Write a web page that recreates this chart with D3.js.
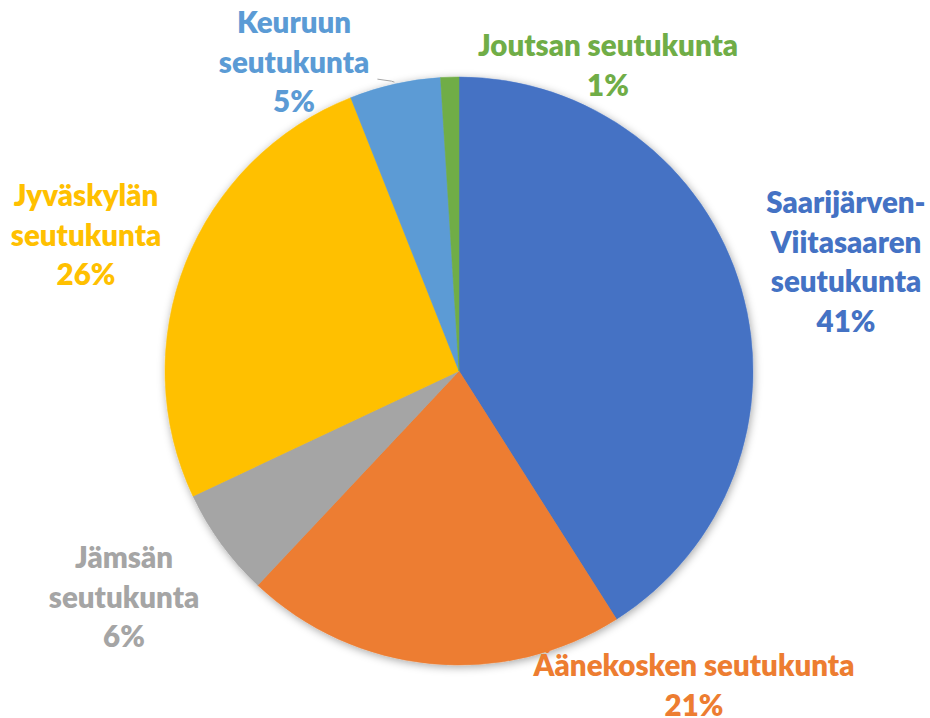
<!DOCTYPE html>
<html>
<head>
<meta charset="utf-8">
<script src="https://cdn.jsdelivr.net/npm/d3@7"></script>
<style>
  html, body { margin: 0; padding: 0; background: #ffffff; }
  svg { display: block; }
  text { font-family: Lato, "Open Sans", "DejaVu Sans", sans-serif; font-weight: 800; }
</style>
</head>
<body>
<svg id="chart" width="930" height="718"></svg>
<script>
// ---- data ----
const categories = [
  "Saarijärven-Viitasaaren seutukunta",
  "Äänekosken seutukunta",
  "Jämsän seutukunta",
  "Jyväskylän seutukunta",
  "Keuruun seutukunta",
  "Joutsan seutukunta"
];
const values = [41, 21, 6, 26, 5, 1];
const labelLines = [
  ["Saarijärven-", "Viitasaaren", "seutukunta"],
  ["Äänekosken seutukunta"],
  ["Jämsän", "seutukunta"],
  ["Jyväskylän", "seutukunta"],
  ["Keuruun", "seutukunta"],
  ["Joutsan seutukunta"]
];
const colors = ["#4472C4", "#ED7D31", "#A5A5A5", "#FFC000", "#5B9BD5", "#70AD47"];

// ---- layout ----
const width = 930, height = 718;
const cx = 459, cy = 371, radius = 294;
const fontSize = 29.5, lineH = 39.5;
// label anchor: center x and first baseline
const labelLayout = [
  { x: 846, y: 213 },
  { x: 694, y: 676 },
  { x: 124, y: 568 },
  { x: 86,  y: 206 },
  { x: 294, y: 33 },
  { x: 608, y: 56 }
];

const svg = d3.select("#chart");
const defs = svg.append("defs");
const f = defs.append("filter").attr("id", "shadow")
  .attr("x", "-10%").attr("y", "-10%").attr("width", "120%").attr("height", "120%");
f.append("feDropShadow").attr("dx", 1).attr("dy", 2).attr("stdDeviation", 4)
  .attr("flood-color", "#000").attr("flood-opacity", 0.35);

const data = categories.map((c, i) => ({ name: c, value: values[i], color: colors[i], lines: labelLines[i], pos: labelLayout[i] }));

const pie = d3.pie().sort(null).value(d => d.value);
const arc = d3.arc().innerRadius(0).outerRadius(radius);
const arcs = pie(data);

const g = svg.append("g").attr("transform", `translate(${cx},${cy})`);
g.append("g").attr("filter", "url(#shadow)")
  .selectAll("path").data(arcs).join("path")
  .attr("d", arc)
  .attr("fill", d => d.data.color)
  .attr("stroke", d => d.data.color)
  .attr("stroke-width", 0.5);

// leader line for Keuruun
const keu = arcs[4];
const outer = d3.arc().innerRadius(radius + 2).outerRadius(radius + 2);
const [ex, ey] = outer.centroid(keu);
svg.append("polyline")
  .attr("points", `${cx + ex - 17},${cy + ey - 3} ${cx + ex - 3},${cy + ey - 1} ${cx + ex},${cy + ey}`)
  .attr("fill", "none")
  .attr("stroke", "#A6A6A6")
  .attr("stroke-width", 1);

// labels
const labels = svg.append("g");
data.forEach(d => {
  const t = labels.append("text")
    .attr("text-anchor", "middle")
    .attr("fill", d.color)
    .attr("font-size", fontSize);
  const lines = d.lines.concat([d.value + "%"]);
  lines.forEach((ln, j) => {
    t.append("tspan").attr("x", d.pos.x).attr("y", d.pos.y + j * lineH).text(ln);
  });
});
</script>
</body>
</html>
